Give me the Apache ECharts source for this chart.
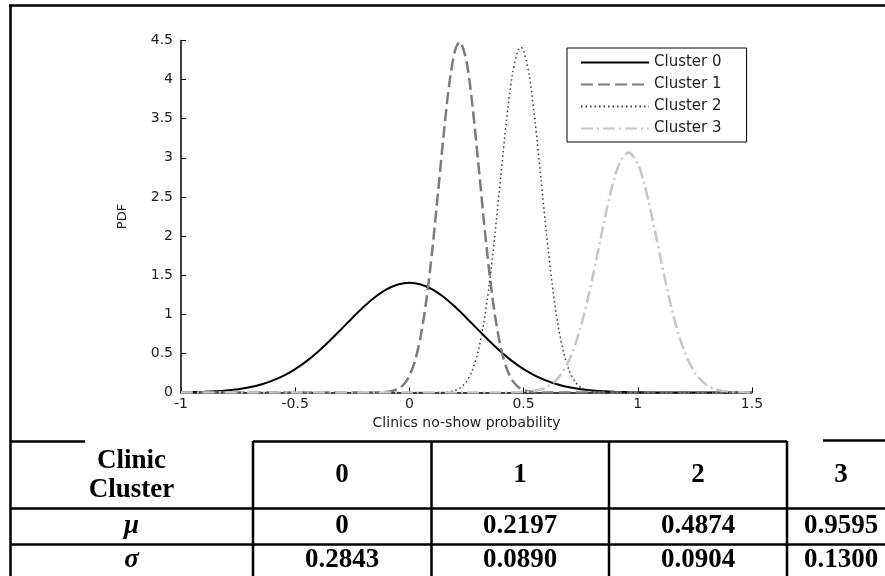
<!DOCTYPE html>
<html>
<head>
<meta charset="utf-8">
<script src="https://cdn.jsdelivr.net/npm/echarts@6/dist/echarts.min.js"></script>
<style>html,body{margin:0;padding:0;background:#fff}#c{width:885px;height:576px}</style>
</head>
<body>
<div id="c"></div>
<script>
// ---- data ----
const seriesNames = ['Cluster 0', 'Cluster 1', 'Cluster 2', 'Cluster 3'];

const cluster0X = [-1, -0.95, -0.9, -0.85, -0.8, -0.75, -0.7, -0.65, -0.6, -0.55, -0.5, -0.45, -0.4, -0.35, -0.3, -0.25, -0.2, -0.15, -0.1, -0.05, 0, 0.05, 0.1, 0.15, 0.2, 0.25, 0.3, 0.35, 0.4, 0.45, 0.5, 0.55, 0.6, 0.65, 0.7, 0.75, 0.8, 0.85, 0.9, 0.95, 1.0, 1.05, 1.1, 1.2, 1.3, 1.4, 1.5];
const cluster0Y = [0.003, 0.005, 0.009, 0.016, 0.027, 0.043, 0.068, 0.103, 0.151, 0.216, 0.299, 0.401, 0.522, 0.658, 0.804, 0.953, 1.095, 1.221, 1.319, 1.381, 1.403, 1.381, 1.319, 1.221, 1.095, 0.953, 0.804, 0.658, 0.522, 0.401, 0.299, 0.216, 0.151, 0.103, 0.068, 0.043, 0.027, 0.016, 0.009, 0.005, 0.003, 0.0015, 0.001, 0, 0, 0, 0];

const cluster1X = [-1, -0.5, -0.2, -0.15, -0.1, -0.05, -0.025, 0, 0.025, 0.05, 0.075, 0.1, 0.125, 0.15, 0.175, 0.2, 0.2197, 0.25, 0.275, 0.3, 0.325, 0.35, 0.375, 0.4, 0.425, 0.45, 0.475, 0.5, 0.55, 0.6, 0.7, 1.0, 1.5];
const cluster1Y = [0, 0, 0, 0.001, 0.007, 0.045, 0.102, 0.213, 0.410, 0.728, 1.196, 1.815, 2.545, 3.299, 3.952, 4.375, 4.483, 4.231, 3.696, 2.984, 2.226, 1.535, 0.978, 0.576, 0.313, 0.158, 0.073, 0.031, 0.005, 0.001, 0, 0, 0];

const cluster2X = [-1, -0.5, 0, 0.1, 0.15, 0.2, 0.225, 0.25, 0.275, 0.3, 0.325, 0.35, 0.375, 0.4, 0.425, 0.45, 0.475, 0.4874, 0.5, 0.525, 0.55, 0.575, 0.6, 0.625, 0.65, 0.675, 0.7, 0.725, 0.75, 0.8, 0.85, 0.9, 1.0, 1.5];
const cluster2Y = [0, 0, 0, 0.0005, 0.004, 0.028, 0.065, 0.140, 0.279, 0.515, 0.879, 1.390, 2.037, 2.765, 3.477, 4.051, 4.372, 4.413, 4.370, 4.047, 3.472, 2.759, 2.031, 1.386, 0.875, 0.512, 0.278, 0.140, 0.065, 0.011, 0.001, 0, 0, 0];

const cluster3X = [-1, 0, 0.4, 0.45, 0.5, 0.55, 0.6, 0.65, 0.7, 0.75, 0.8, 0.85, 0.875, 0.9, 0.925, 0.9595, 1.0, 1.025, 1.05, 1.075, 1.1, 1.15, 1.2, 1.25, 1.3, 1.35, 1.4, 1.45, 1.5];
const cluster3Y = [0, 0, 0.0003, 0.001, 0.006, 0.022, 0.067, 0.180, 0.419, 0.838, 1.446, 2.153, 2.484, 2.764, 2.963, 3.069, 2.924, 2.703, 2.409, 2.068, 1.712, 1.049, 0.554, 0.253, 0.099, 0.034, 0.010, 0.003, 0.0005];

const xAxisTitle = 'Clinics no-show probability';
const yAxisTitle = 'PDF';

const tableHeader = ['Clinic\nCluster', '0', '1', '2', '3'];
const tableMu = ['μ', '0', '0.2197', '0.4874', '0.9595'];
const tableSigma = ['σ', '0.2843', '0.0890', '0.0904', '0.1300'];

// ---- build ----
function pairs(xs, ys) { return xs.map((x, i) => [x, ys[i]]); }

const styles = [
  { color: '#000000', width: 2, type: 'solid' },
  { color: '#7b7b7b', width: 2.5, type: [12, 5] },
  { color: '#3a3a3a', width: 1.5, type: [1.5, 3] },
  { color: '#c6c6c6', width: 2.5, type: [12, 4, 2, 4] }
];
const dataSets = [
  pairs(cluster0X, cluster0Y),
  pairs(cluster1X, cluster1Y),
  pairs(cluster2X, cluster2Y),
  pairs(cluster3X, cluster3Y)
];

const series = seriesNames.map((n, i) => ({
  name: n,
  type: 'line',
  data: dataSets[i],
  symbol: 'none',
  smooth: 0.3,
  itemStyle: { color: styles[i].color },
  lineStyle: { color: styles[i].color, width: styles[i].width, type: styles[i].type },
  z: 2 + i
}));

// table graphics
const colLines = [253, 431.5, 609, 787];
const colCenters = [131.5, 342, 520, 698, 841];
const rowCenters = [475.5, 526, 560];
const lw = 2.5;
const g = [];
function line(x1, y1, x2, y2) {
  g.push({ type: 'line', shape: { x1, y1, x2, y2 }, style: { stroke: '#000', lineWidth: lw }, z: 10 });
}
// outer frame
line(9, 5.5, 885, 5.5);
line(10.5, 5, 10.5, 576);
// table top (partly hidden in reference)
line(10, 441.5, 85, 441.5);
line(253, 441.5, 787, 441.5);
line(823, 440.5, 885, 440.5);
// rows
line(10, 508.5, 885, 508.5);
line(10, 544.5, 885, 544.5);
// columns
colLines.forEach(x => line(x, 441, x, 576));

function cellText(txt, x, y, italic) {
  g.push({
    type: 'text', z: 11,
    style: {
      text: txt, x: x, y: y, align: 'center', verticalAlign: 'middle',
      fontFamily: 'Liberation Serif', fontSize: 27, fontWeight: 'bold',
      fontStyle: italic ? 'italic' : 'normal', lineHeight: 29, fill: '#000'
    }
  });
}
tableHeader.forEach((t, i) => cellText(t, colCenters[i], rowCenters[0], false));
tableMu.forEach((t, i) => cellText(t, colCenters[i], rowCenters[1], i === 0));
tableSigma.forEach((t, i) => cellText(t, colCenters[i], rowCenters[2], i === 0));

const axisFont = { fontFamily: 'DejaVu Sans', fontSize: 14, color: '#1e1e1e' };

const option = {
  animation: false,
  backgroundColor: '#fff',
  grid: { left: 181, right: 133, top: 40.5, bottom: 183.5, containLabel: false, outerBoundsMode: 'none' },
  legend: {
    data: seriesNames,
    orient: 'vertical',
    left: 567, top: 48,
    itemWidth: 68, itemHeight: 14, itemGap: 7,
    padding: [7, 25, 6, 13],
    borderColor: '#000', borderWidth: 1, backgroundColor: '#fff',
    itemStyle: { color: 'rgba(0,0,0,0)', borderWidth: 0, opacity: 0 },
    textStyle: { fontFamily: 'DejaVu Sans', fontSize: 15, color: '#1e1e1e', lineHeight: 14 }
  },
  xAxis: {
    type: 'value', min: -1, max: 1.5, interval: 0.5,
    name: xAxisTitle, nameLocation: 'middle', nameGap: 21,
    nameTextStyle: { fontFamily: 'DejaVu Sans', fontSize: 14, color: '#1e1e1e' },
    axisLine: { show: true, onZero: false, lineStyle: { color: '#000', width: 1.5 } },
    axisTick: { show: true, inside: true, length: 5, lineStyle: { color: '#000' } },
    axisLabel: Object.assign({ margin: 5 }, axisFont),
    splitLine: { show: false }
  },
  yAxis: {
    type: 'value', min: 0, max: 4.5, interval: 0.5,
    name: yAxisTitle, nameLocation: 'middle', nameGap: 52, nameRotate: 90,
    nameTextStyle: { fontFamily: 'DejaVu Sans', fontSize: 13, color: '#1e1e1e' },
    axisLine: { show: true, onZero: false, lineStyle: { color: '#000', width: 1.5 } },
    axisTick: { show: true, inside: true, length: 5, lineStyle: { color: '#000' } },
    axisLabel: Object.assign({ margin: 8 }, axisFont),
    splitLine: { show: false }
  },
  series: series,
  graphic: g
};

const chart = echarts.init(document.getElementById('c'), null, { renderer: 'canvas' });
chart.setOption(option);
</script>
</body>
</html>
